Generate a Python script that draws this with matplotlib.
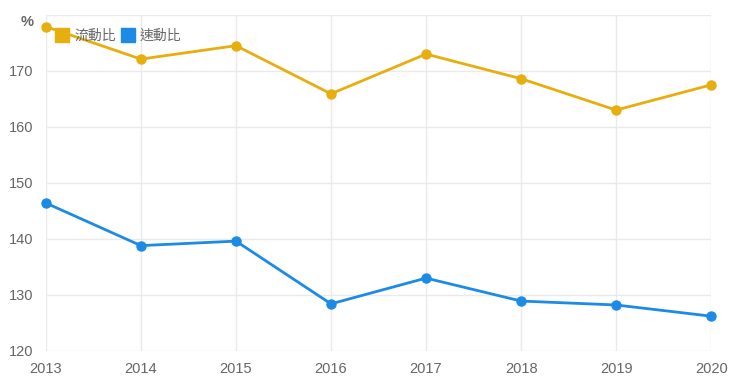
import matplotlib
matplotlib.use("Agg")
import matplotlib.pyplot as plt
from matplotlib.lines import Line2D

plt.rcParams['font.family'] = ['Liberation Sans', 'Noto Sans CJK TC', 'DejaVu Sans']

years = [2013, 2014, 2015, 2016, 2017, 2018, 2019, 2020]
current_ratio = [177.9, 172.1, 174.5, 165.9, 173.0, 168.6, 163.0, 167.5]
quick_ratio = [146.4, 138.8, 139.6, 128.4, 133.0, 128.9, 128.2, 126.2]
series_names = ['流動比', '速動比']
y_ticks = [120, 130, 140, 150, 160, 170, 180]
y_tick_labels = ['120', '130', '140', '150', '160', '170', '%']

gold = '#E6AE0E'
blue = '#1C8BE6'
grid_c = '#EAEAEA'
text_c = '#666666'

fig = plt.figure(figsize=(7.4, 3.81), dpi=100)
ax = fig.add_axes([0.062, 0.079, 0.899, 0.882])

ax.plot(years, current_ratio, color=gold, lw=2, marker='o', ms=6.5, clip_on=False, zorder=3)
ax.plot(years, quick_ratio, color=blue, lw=2, marker='o', ms=6.5, clip_on=False, zorder=3)

ax.set_xlim(2013, 2020)
ax.set_ylim(120, 180)
ax.set_xticks(years)
ax.set_xticklabels([str(y) for y in years])
ax.set_yticks(y_ticks)
ax.set_yticklabels(y_tick_labels)
ax.grid(True, color=grid_c, lw=1)
ax.set_axisbelow(True)
for s in ax.spines.values():
    s.set_visible(False)
ax.tick_params(length=0, colors=text_c, labelsize=10.5)
ax.tick_params(axis='y', pad=9)
ax.tick_params(axis='x', pad=8)
for lbl in ax.get_yticklabels():
    if lbl.get_text() == '%':
        lbl.set_fontweight('bold')
        lbl.set_va('top')

handles = [Line2D([0], [0], marker='s', color='none', markerfacecolor=gold, markeredgecolor=gold, ms=10),
           Line2D([0], [0], marker='s', color='none', markerfacecolor=blue, markeredgecolor=blue, ms=10)]
leg = ax.legend(handles, series_names, loc='upper left', bbox_to_anchor=(0.006, 0.975), ncol=2,
                frameon=False, prop={'family': ['Noto Sans CJK TC', 'DejaVu Sans'], 'size': 10},
                handlelength=1.0, handletextpad=0.35, columnspacing=0.35, borderaxespad=0)
for t in leg.get_texts():
    t.set_color(text_c)

fig.savefig('out.png', dpi=100)
